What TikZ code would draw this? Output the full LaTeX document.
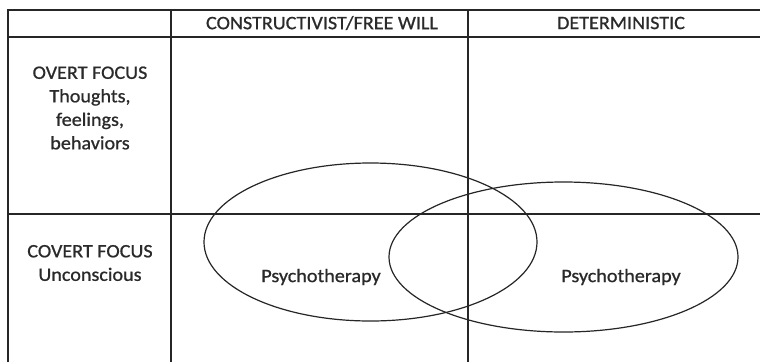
\documentclass[tikz,border=0pt]{standalone}
\usepackage{fontspec}
\setmainfont[FakeStretch=1.06,FakeBold=0.8]{Carlito}
\definecolor{txt}{HTML}{2A2A2A}
\tikzset{
  grid/.style={line width=1.4pt, black!85},
  oval/.style={line width=1.2pt, black!85},
  lbl/.style={font=\fontsize{19}{23.5}\selectfont, text=txt, align=center, inner sep=0pt}
}
\begin{document}
\begin{tikzpicture}[x=1pt,y=-1pt]
\useasboundingbox (0,0) rectangle (760,362);
\fill[white] (0,0) rectangle (760,362);
% table lines
\draw[grid] (8,362) -- (8,10) -- (760,10);
\draw[grid] (8,37) -- (760,37);
\draw[grid] (8,214) -- (760,214);
\draw[grid] (171,10) -- (171,362);
\draw[grid] (468,10) -- (468,362);
% ellipses
\draw[oval] (370.5,242) ellipse [x radius=166.5, y radius=79];
\draw[oval] (563.5,257) ellipse [x radius=174.5, y radius=75];
% texts
\node[lbl] (h1) at (322,23) {CONSTRUCTIVIST/FREE WILL};
\node[lbl] (h2) at (621,23) {DETERMINISTIC};
\node[lbl] (r1) at (90,108) {OVERT FOCUS\\Thoughts,\\feelings,\\behaviors};
\node[lbl] (r2) at (90,263) {COVERT FOCUS\\Unconscious};
\node[lbl] (p1) at (321,277) {Psychotherapy};
\node[lbl] (p2) at (621,277) {Psychotherapy};
\end{tikzpicture}
\end{document}
